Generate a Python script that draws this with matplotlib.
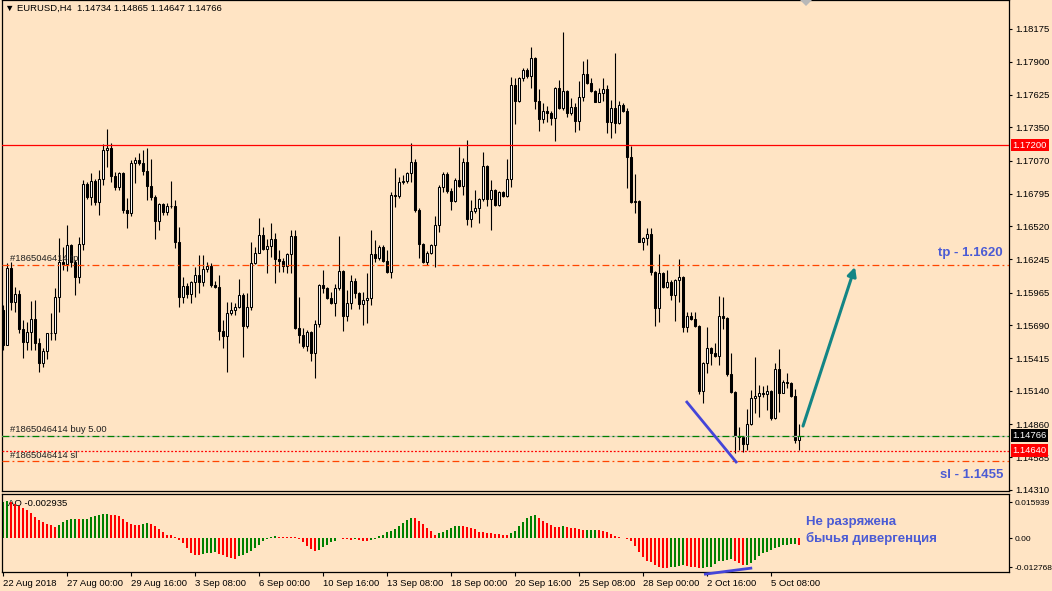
import numpy as np
import matplotlib
matplotlib.use("Agg")
import matplotlib.pyplot as plt
from matplotlib.patches import Polygon
from matplotlib.transforms import blended_transform_factory

plt.rcParams['font.family'] = ['Liberation Sans', 'DejaVu Sans']

BG = '#FFE4C4'

# EURUSD H4, 200 candles (open = previous close)
first_open = 1.15819
closes = [
    1.15526, 1.16171, 1.15886, 1.15953, 1.15660, 1.15551, 1.15635, 1.15744, 1.15542, 1.15375,
    1.15475, 1.15626, 1.15622, 1.15928, 1.16221, 1.16205, 1.16364, 1.16221, 1.16096, 1.16372,
    1.16875, 1.16766, 1.16901, 1.16724, 1.16917, 1.17160, 1.17177, 1.16942, 1.16850, 1.16968,
    1.16657, 1.16632, 1.17051, 1.17077, 1.17051, 1.16984, 1.16859, 1.16766, 1.16565, 1.16708,
    1.16641, 1.16691, 1.16695, 1.16389, 1.15928, 1.16020, 1.15953, 1.16054, 1.16112, 1.16054,
    1.16163, 1.16188, 1.16029, 1.16012, 1.15643, 1.15601, 1.15794, 1.15819, 1.15844, 1.15945,
    1.15685, 1.15844, 1.16213, 1.16297, 1.16448, 1.16330, 1.16356, 1.16414, 1.16247, 1.16230,
    1.16188, 1.16289, 1.16439, 1.15668, 1.15609, 1.15517, 1.15635, 1.15458, 1.15702, 1.16029,
    1.16003, 1.15920, 1.15878, 1.16003, 1.16146, 1.15769, 1.15878, 1.16062, 1.15961, 1.15869,
    1.15903, 1.15920, 1.16289, 1.16255, 1.16347, 1.16230, 1.16138, 1.16783, 1.16775, 1.16892,
    1.16901, 1.16968, 1.17060, 1.16657, 1.16372, 1.16221, 1.16297, 1.16364, 1.16532, 1.16850,
    1.16959, 1.16817, 1.16733, 1.16909, 1.16859, 1.17060, 1.16582, 1.16649, 1.16674, 1.16750,
    1.17026, 1.16750, 1.16825, 1.16699, 1.16808, 1.16775, 1.16917, 1.17705, 1.17571, 1.17764,
    1.17831, 1.17781, 1.17932, 1.17571, 1.17420, 1.17487, 1.17471, 1.17429, 1.17680, 1.17513,
    1.17655, 1.17471, 1.17521, 1.17404, 1.17605, 1.17798, 1.17722, 1.17655, 1.17563, 1.17638,
    1.17672, 1.17395, 1.17513, 1.17387, 1.17538, 1.17487, 1.17102, 1.16724, 1.16733, 1.16389,
    1.16423, 1.16456, 1.16138, 1.15836, 1.16129, 1.16012, 1.16054, 1.15945, 1.16071, 1.16096,
    1.15676, 1.15769, 1.15744, 1.15685, 1.15140, 1.15375, 1.15500, 1.15458, 1.15433, 1.15769,
    1.15752, 1.15282, 1.15131, 1.14763, 1.14754, 1.14696, 1.14863, 1.15081, 1.15098, 1.15123,
    1.15115, 1.15140, 1.14914, 1.15324, 1.15123, 1.15215, 1.15207, 1.15098, 1.14729, 1.14766,
]
highs = [
    1.15861, 1.16213, 1.16221, 1.16012, 1.15987, 1.15735, 1.15718, 1.15894, 1.15903, 1.15584,
    1.15500, 1.15630, 1.15794, 1.16003, 1.16423, 1.16347, 1.16532, 1.16372, 1.16238, 1.16431,
    1.16909, 1.16892, 1.16968, 1.16917, 1.16993, 1.17211, 1.17336, 1.17219, 1.16976, 1.16976,
    1.16976, 1.16758, 1.17077, 1.17102, 1.17135, 1.17160, 1.17177, 1.17085, 1.16783, 1.16716,
    1.16716, 1.16716, 1.16901, 1.16741, 1.16515, 1.16096, 1.16045, 1.16060, 1.16180, 1.16280,
    1.16280, 1.16221, 1.16213, 1.16062, 1.16112, 1.15735, 1.15886, 1.15886, 1.15878, 1.16079,
    1.15961, 1.15961, 1.16389, 1.16347, 1.16590, 1.16515, 1.16414, 1.16548, 1.16465, 1.16322,
    1.16255, 1.16297, 1.16490, 1.16490, 1.15928, 1.15668, 1.15651, 1.15640, 1.15735, 1.16037,
    1.16154, 1.16012, 1.15970, 1.16037, 1.16439, 1.16154, 1.15987, 1.16112, 1.16087, 1.15970,
    1.15970, 1.16129, 1.16490, 1.16406, 1.16364, 1.16364, 1.16322, 1.16808, 1.17010, 1.16934,
    1.16951, 1.16976, 1.17219, 1.17085, 1.16674, 1.16381, 1.16314, 1.16372, 1.16607, 1.16867,
    1.16976, 1.16976, 1.16842, 1.16926, 1.17186, 1.17093, 1.17244, 1.16741, 1.16825, 1.16758,
    1.17144, 1.17035, 1.16909, 1.16833, 1.16815, 1.16815, 1.17085, 1.17772, 1.17764, 1.17772,
    1.17848, 1.17848, 1.18024, 1.17940, 1.17672, 1.17554, 1.17529, 1.17487, 1.17689, 1.17747,
    1.18150, 1.17660, 1.17596, 1.17554, 1.17739, 1.17907, 1.17923, 1.17764, 1.17663, 1.17680,
    1.17764, 1.17705, 1.17580, 1.17974, 1.17571, 1.17554, 1.17513, 1.17194, 1.16959, 1.16741,
    1.16431, 1.16506, 1.16506, 1.16146, 1.16289, 1.16138, 1.16154, 1.16071, 1.16079, 1.16247,
    1.16104, 1.15802, 1.15802, 1.15802, 1.15693, 1.15380, 1.15676, 1.15509, 1.15542, 1.15936,
    1.15928, 1.15760, 1.15458, 1.15140, 1.14838, 1.14763, 1.14989, 1.15148, 1.15425, 1.15190,
    1.15182, 1.15190, 1.15148, 1.15375, 1.15492, 1.15232, 1.15291, 1.15215, 1.15157, 1.14865,
]
lows = [
    1.15484, 1.15710, 1.15819, 1.15802, 1.15626, 1.15417, 1.15484, 1.15484, 1.15484, 1.15299,
    1.15341, 1.15408, 1.15567, 1.15567, 1.15802, 1.16154, 1.16146, 1.16180, 1.15945, 1.16045,
    1.16322, 1.16750, 1.16699, 1.16699, 1.16616, 1.16867, 1.17018, 1.16892, 1.16825, 1.16825,
    1.16632, 1.16506, 1.16607, 1.16884, 1.17035, 1.16951, 1.16741, 1.16741, 1.16414, 1.16490,
    1.16616, 1.16616, 1.16674, 1.16339, 1.15844, 1.15878, 1.15920, 1.15878, 1.15928, 1.15961,
    1.16020, 1.16138, 1.16012, 1.16005, 1.15567, 1.15500, 1.15299, 1.15777, 1.15777, 1.15836,
    1.15425, 1.15668, 1.15819, 1.16205, 1.16297, 1.16322, 1.16129, 1.16263, 1.16045, 1.16138,
    1.16138, 1.16129, 1.16129, 1.15660, 1.15542, 1.15500, 1.15475, 1.15391, 1.15249, 1.15676,
    1.15961, 1.15911, 1.15870, 1.15769, 1.15987, 1.15643, 1.15727, 1.15827, 1.15920, 1.15827,
    1.15693, 1.15710, 1.15861, 1.16221, 1.16238, 1.16221, 1.16130, 1.16087, 1.16683, 1.16758,
    1.16875, 1.16884, 1.16892, 1.16641, 1.16255, 1.16213, 1.16196, 1.16289, 1.16180, 1.16473,
    1.16808, 1.16800, 1.16657, 1.16724, 1.16850, 1.16783, 1.16532, 1.16515, 1.16632, 1.16548,
    1.16733, 1.16691, 1.16490, 1.16691, 1.16691, 1.16766, 1.16766, 1.16850, 1.17378, 1.17563,
    1.17739, 1.17764, 1.17680, 1.17504, 1.17320, 1.17387, 1.17395, 1.17370, 1.17236, 1.17505,
    1.17496, 1.17437, 1.17454, 1.17311, 1.17328, 1.17571, 1.17714, 1.17647, 1.17560, 1.17563,
    1.17571, 1.17303, 1.17261, 1.17303, 1.17378, 1.17479, 1.16842, 1.16720, 1.16632, 1.16385,
    1.16322, 1.16364, 1.16112, 1.15685, 1.15718, 1.16003, 1.16003, 1.15903, 1.15727, 1.15886,
    1.15635, 1.15635, 1.15735, 1.15676, 1.15115, 1.15039, 1.15291, 1.15358, 1.15425, 1.15358,
    1.15660, 1.15266, 1.15125, 1.14620, 1.14645, 1.14628, 1.14645, 1.14855, 1.14955, 1.14922,
    1.15090, 1.14981, 1.14897, 1.14905, 1.14964, 1.15123, 1.15165, 1.15090, 1.14704, 1.14647,
]

# Awesome Oscillator histogram
ao = [
    0.01620, 0.01634, 0.01590, 0.01516, 0.01443, 0.01340, 0.01251, 0.01133, 0.00957, 0.00810,
    0.00736, 0.00633, 0.00604, 0.00515, 0.00604, 0.00736, 0.00810, 0.00860, 0.00872, 0.00866,
    0.00870, 0.00874, 0.00927, 0.00986, 0.01045, 0.01089, 0.01092, 0.01045, 0.01040, 0.00986,
    0.00868, 0.00736, 0.00633, 0.00604, 0.00600, 0.00633, 0.00677, 0.00633, 0.00545, 0.00397,
    0.00265, 0.00162, 0.00132, 0.00044, -0.00074, -0.00221, -0.00427, -0.00633, -0.00740, -0.00751,
    -0.00692, -0.00648, -0.00625, -0.00615, -0.00692, -0.00736, -0.00839, -0.00883, -0.00898, -0.00795,
    -0.00721, -0.00662, -0.00545, -0.00427, -0.00294, -0.00132, -0.00029, 0.00044, 0.00103, 0.00074,
    0.00070, 0.00066, 0.00062, 0.00044, -0.00044, -0.00177, -0.00324, -0.00471, -0.00545, -0.00500,
    -0.00397, -0.00280, -0.00177, -0.00103, 0.00029, -0.00044, -0.00048, -0.00052, -0.00029, -0.00074,
    -0.00132, -0.00135, -0.00074, -0.00029, 0.00088, 0.00162, 0.00265, 0.00339, 0.00412, 0.00559,
    0.00662, 0.00810, 0.00883, 0.00880, 0.00780, 0.00633, 0.00456, 0.00309, 0.00162, 0.00236,
    0.00280, 0.00368, 0.00442, 0.00545, 0.00550, 0.00545, 0.00486, 0.00442, 0.00397, 0.00280,
    0.00275, 0.00236, 0.00221, 0.00206, 0.00191, 0.00162, 0.00158, 0.00221, 0.00339, 0.00559,
    0.00736, 0.00883, 0.00986, 0.01016, 0.00883, 0.00765, 0.00662, 0.00589, 0.00515, 0.00500,
    0.00545, 0.00500, 0.00471, 0.00442, 0.00397, 0.00368, 0.00375, 0.00382, 0.00390, 0.00385,
    0.00339, 0.00265, 0.00177, 0.00118, 0.00074, 0.00029, -0.00044, -0.00103, -0.00339, -0.00589,
    -0.00810, -0.00986, -0.01060, -0.01192, -0.01251, -0.01295, -0.01325, -0.01281, -0.01251, -0.01207,
    -0.01192, -0.01222, -0.01251, -0.01281, -0.01310, -0.01300, -0.01280, -0.01251, -0.01133, -0.01016,
    -0.00986, -0.00957, -0.00927, -0.01016, -0.01104, -0.01192, -0.01180, -0.01104, -0.00957, -0.00780,
    -0.00662, -0.00589, -0.00515, -0.00442, -0.00368, -0.00309, -0.00294, -0.00250, -0.00240, -0.00294,
]

time_tick_idx = [0, 16, 32, 48, 64, 80, 96, 112, 128, 144, 160, 176, 192]
time_tick_text = ['22 Aug 2018', '27 Aug 00:00', '29 Aug 16:00', '3 Sep 08:00', '6 Sep 00:00',
                  '10 Sep 16:00', '13 Sep 08:00', '18 Sep 00:00', '20 Sep 16:00', '25 Sep 08:00',
                  '28 Sep 00:00', '2 Oct 16:00', '5 Oct 08:00']
price_ticks = [1.14310, 1.14585, 1.14860, 1.15140, 1.15415, 1.15690, 1.15965, 1.16245,
               1.16520, 1.16795, 1.17070, 1.17350, 1.17625, 1.17900, 1.18175]
ao_ticks = [0.015939, 0.0, -0.012768]
ao_tick_text = ['0.015939', '0.00', '-0.012768']

level_red = 1.17200
tp_level = 1.1620
sl_level = 1.1455
bid = 1.14766
ask_line = 1.14640

W, H = 1052, 591
fig = plt.figure(figsize=(W / 100, H / 100), dpi=100, facecolor=BG)

def fx(px):
    return px / W

def fy(py):
    return 1 - py / H

ax = fig.add_axes([fx(2), fy(491), fx(1007), 491 / H], facecolor=BG)
ax2 = fig.add_axes([fx(2), fy(571.7), fx(1007), (571.7 - 494) / H], facecolor=BG)

for a in (ax, ax2):
    a.set_xlim(-0.25, 251.5)
    for s in a.spines.values():
        s.set_color('black')
        s.set_linewidth(0.9)
    a.yaxis.tick_right()
    a.tick_params(axis='y', direction='out', length=2.5, width=0.8, pad=2,
                  labelsize=6.8, colors='black')
ax2.tick_params(axis='y', labelsize=6.0, pad=1.5)

ax.set_ylim(1.143015, 1.18418)
ax2.set_ylim(-0.014705, 0.019607)

# candles
c = np.array(closes)
h = np.array(highs)
l = np.array(lows)
o = np.concatenate([[first_open], c[:-1]])
x = np.arange(len(c))
up = c >= o
lo_b = np.minimum(o, c)
hi_b = np.maximum(o, c)
ax.vlines(x, np.minimum(l, lo_b), np.maximum(h, hi_b), color='black', lw=0.8, zorder=2)
ax.bar(x[up], (hi_b - lo_b)[up], bottom=lo_b[up], width=0.5, color='white',
       edgecolor='black', linewidth=0.75, zorder=3)
ax.bar(x[~up], (hi_b - lo_b)[~up], bottom=lo_b[~up], width=0.5, color='black',
       edgecolor='black', linewidth=0.75, zorder=3)

# horizontal levels
ax.axhline(level_red, color='#FF0000', lw=0.9, zorder=4)
ax.axhline(tp_level, color='#FF4500', lw=0.9, linestyle=(0, (5.5, 2.5, 1.5, 2.5)), zorder=4)
ax.axhline(sl_level, color='#FF4500', lw=0.9, linestyle=(0, (5.5, 2.5, 1.5, 2.5)), zorder=4)
ax.axhline(bid, color='#C0C0C0', lw=0.9, zorder=4)
ax.axhline(bid, color='#008000', lw=0.9, linestyle=(0, (5.5, 2.5, 1.5, 2.5)), zorder=4)
ax.axhline(ask_line, color='#FF0000', lw=0.9, linestyle=(0, (1.5, 1.5)), zorder=4)

ax.set_xticks([])
ax.set_yticks(price_ticks)
ax.set_yticklabels(['%.5f' % v for v in price_ticks])

# price boxes on the right scale
tr = blended_transform_factory(ax.transAxes, ax.transData)
for val, bgc in ((level_red, '#FF0000'), (bid, '#000000'), (ask_line, '#FF0000')):
    ax.text(1.0035, val, '%.5f' % val, transform=tr, color='white', fontsize=6.8,
            va='center', ha='left', clip_on=False, zorder=10,
            bbox=dict(facecolor=bgc, edgecolor='none', pad=1.2))

# drawn objects
ax.plot([170.75, 183.5], [1.15056, 1.14536], color='#4545D8', lw=2.0, zorder=5,
        solid_capstyle='butt')
ax.annotate('', xy=(213, 1.16180), xytext=(200, 1.14846),
            arrowprops=dict(arrowstyle='-|>', color='#138585', lw=2.2,
                            mutation_scale=13, shrinkA=0, shrinkB=0), zorder=5)

# AO histogram
ao_v = np.array(ao)
rising = np.concatenate([[True], ao_v[1:] > ao_v[:-1]])
ax2.bar(x, ao_v, width=0.6, color=np.where(rising, '#008000', '#FF0000'),
        linewidth=0, zorder=2)
ax2.set_yticks(ao_ticks)
ax2.set_yticklabels(ao_tick_text)
ax2.set_xticks(time_tick_idx)
ax2.set_xticklabels(time_tick_text)
ax2.tick_params(axis='x', direction='out', length=3, width=0.8, pad=2, labelsize=6.8)
for t in ax2.get_xticklabels():
    t.set_ha('left')
ax2.plot([175.25, 187.3], [-0.01585, -0.01307], color='#4545D8', lw=2.0,
         clip_on=False, zorder=5, solid_capstyle='butt')
ax2.text(fx(8), fy(504), 'AO -0.002935', transform=fig.transFigure, fontsize=6.8,
         va='center', ha='left', zorder=1)

# texts
fig.text(fx(5), fy(8), '\u25BC EURUSD,H4  1.14734 1.14865 1.14647 1.14766',
         fontsize=6.8, va='center', ha='left')
fig.text(fx(10), fy(259), '#1865046414 tp', fontsize=6.8, va='center', ha='left', color='#202020')
fig.text(fx(10), fy(430), '#1865046414 buy 5.00', fontsize=6.8, va='center', ha='left', color='#202020')
fig.text(fx(10), fy(455), '#1865046414 sl', fontsize=6.8, va='center', ha='left', color='#202020')
blue = '#4B5BD4'
fig.text(fx(938), fy(253), 'tp - 1.1620', fontsize=9.5, fontweight='bold', color=blue,
         va='center', ha='left')
fig.text(fx(940), fy(475), 'sl - 1.1455', fontsize=9.5, fontweight='bold', color=blue,
         va='center', ha='left')
fig.text(fx(806), fy(522), 'Не разряжена', fontsize=9.5, fontweight='bold', color=blue,
         va='center', ha='left')
fig.text(fx(806), fy(538), 'бычья дивергенция', fontsize=9.5, fontweight='bold', color=blue,
         va='center', ha='left')

fig.patches.append(Polygon([[fx(800), fy(0)], [fx(812), fy(0)], [fx(806), fy(6)]],
                           closed=True, transform=fig.transFigure, facecolor='#B8B8B8',
                           edgecolor='none'))

fig.savefig('out.png', dpi=100, facecolor=BG)
